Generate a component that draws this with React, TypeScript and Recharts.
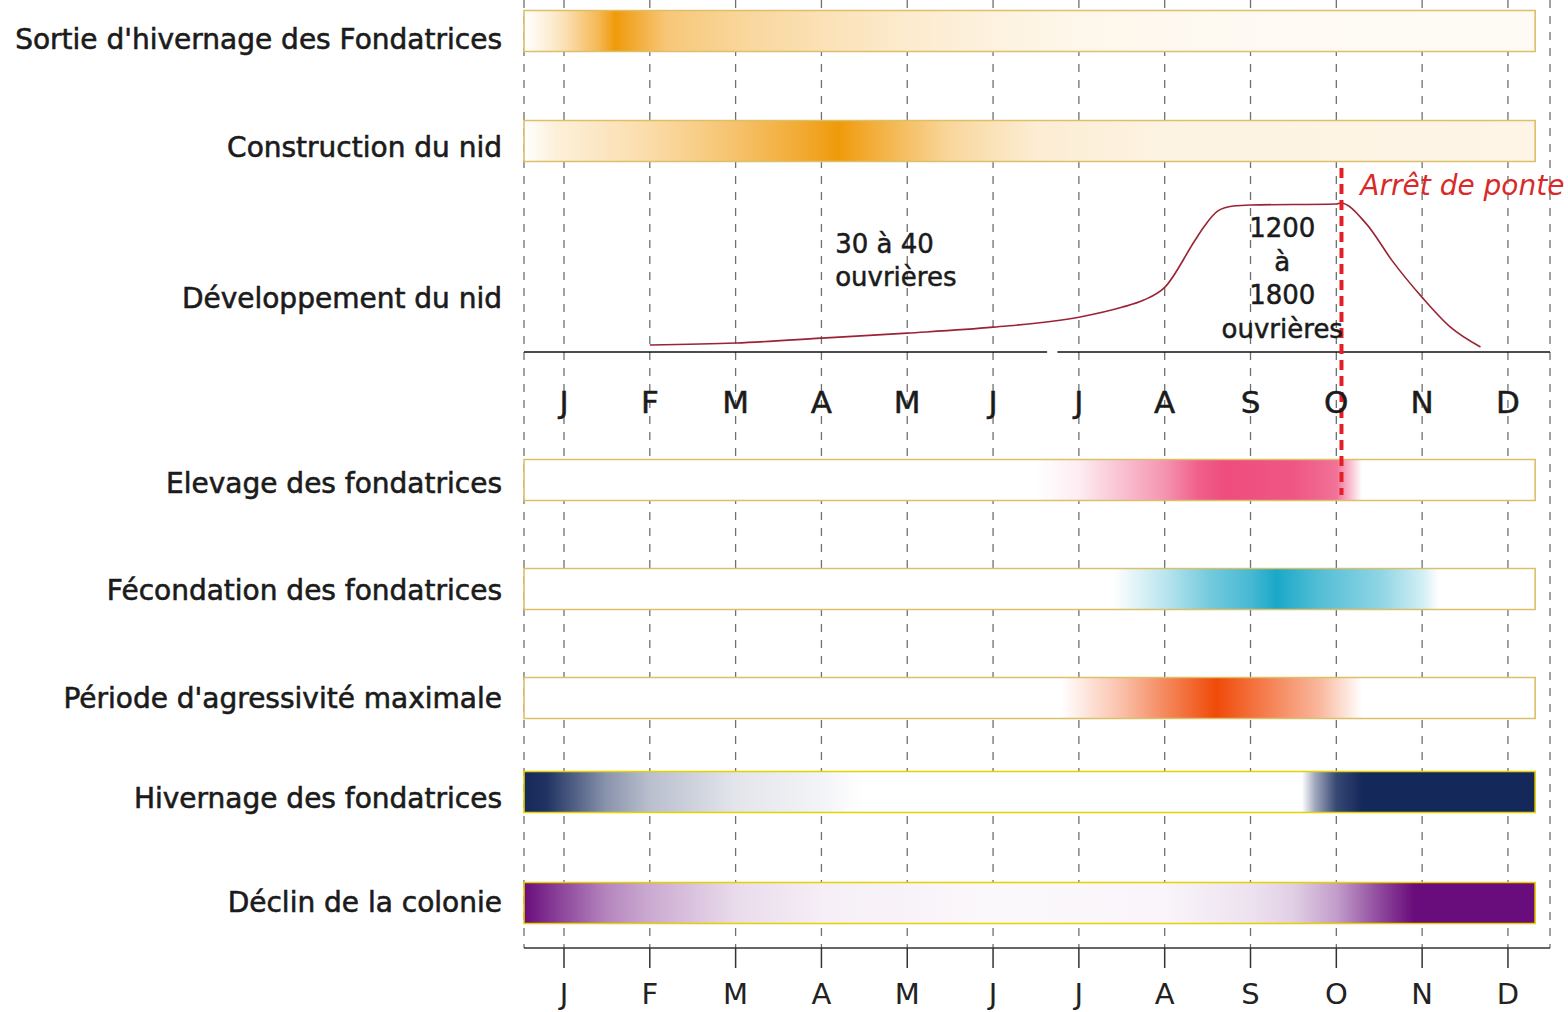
import React from "react"
import {
  CartesianGrid,
  ComposedChart,
  Line,
  ReferenceArea,
  ReferenceDot,
  ReferenceLine,
  XAxis,
  YAxis,
} from "recharts"

// ---- data ----
const MONTHS = ["J", "F", "M", "A", "M", "J", "J", "A", "S", "O", "N", "D"]
const MONTH_TICKS = MONTHS.map((_, i) => i)

const ROW_LABELS = [
  "Sortie d'hivernage des Fondatrices",
  "Construction du nid",
  "Développement du nid",
  "Elevage des fondatrices",
  "Fécondation des fondatrices",
  "Période d'agressivité maximale",
  "Hivernage des fondatrices",
  "Déclin de la colonie",
]

// activity intensity through the year: [month index, 0..1]
const SORTIE = [[-0.47, 0], [-0.2, 0.15], [0, 0.3], [0.4, 0.7], [0.6, 1], [0.8, 0.85], [1.2, 0.55], [2, 0.42], [3, 0.3], [4, 0.2], [5, 0.13], [6, 0.08], [8, 0.05], [11.32, 0.04]]
const CONSTRUCTION = [[-0.47, 0], [-0.1, 0.15], [1, 0.35], [2, 0.6], [2.8, 0.85], [3.2, 1], [3.5, 0.85], [4.5, 0.4], [5.5, 0.18], [7, 0.12], [11.32, 0.1]]
const ELEVAGE = [[-0.47, 0], [5.5, 0], [6, 0.1], [6.5, 0.35], [7, 0.6], [7.4, 0.9], [7.7, 1], [8.5, 0.95], [9, 0.8], [9.15, 0.4], [9.3, 0], [11.32, 0]]
const FECONDATION = [[-0.47, 0], [6.4, 0], [7, 0.3], [7.5, 0.6], [8, 0.8], [8.3, 1], [8.8, 0.75], [9.5, 0.5], [10, 0.2], [10.2, 0], [11.32, 0]]
const AGRESSIVITE = [[-0.47, 0], [5.8, 0], [6.5, 0.35], [7, 0.65], [7.6, 1], [8.2, 0.7], [8.8, 0.4], [9.3, 0], [11.32, 0]]
const HIVERNAGE = [[-0.47, 1], [-0.2, 0.95], [0.5, 0.5], [1, 0.3], [2, 0.12], [3, 0.05], [3.5, 0], [8.6, 0], [8.75, 0.4], [9, 0.85], [9.3, 1], [11.32, 1]]
const DECLIN = [[-0.47, 1], [0, 0.75], [0.5, 0.5], [1, 0.35], [2, 0.15], [3, 0.07], [5, 0.03], [7, 0.04], [8, 0.12], [8.5, 0.2], [9, 0.4], [9.5, 0.75], [9.9, 1], [11.32, 1]]

const BAR_STOPS = [SORTIE, CONSTRUCTION, ELEVAGE, FECONDATION, AGRESSIVITE, HIVERNAGE, DECLIN]
const BAR_COLORS = ["#f09a0a", "#f09a0a", "#ee4d7d", "#1aa8c8", "#f04a08", "#14285a", "#6a0d7c"]
const BAR_BORDERS = ["#dcbf6a", "#dcbf6a", "#dcbf6a", "#dcbf6a", "#dcbf6a", "#e6d000", "#e6d000"]

// nest size (workers)
const NEST_MONTHS = [1, 2, 3, 4, 5, 6, 6.5, 6.75, 7, 7.35, 7.45, 7.62, 7.8, 8, 9, 9.05, 9.35, 9.65, 10, 10.33, 10.68]
const NEST_WORKERS = [70, 90, 140, 190, 250, 350, 450, 520, 650, 1120, 1250, 1420, 1470, 1480, 1490, 1500, 1290, 920, 550, 250, 50]
const EGG_STOP_MONTH = 9.06

// ---- layout ----
const W = 1568
const H = 1012
const LEFT = 524
const RIGHT = 18
const AXIS_H = 64
const PLOT_H = H - AXIS_H
const BAR_START = -0.466
const BAR_END = 11.317
const X_MAX = 11.49
const BAR_Y = [31, 141, 480, 589, 698, 792, 903]
const BAR_H = 41
const LABEL_Y = [39, 147, 298, 483, 590, 698, 798, 902]
const NEST_BASE_Y = 352
const NEST_PEAK_Y = 203
const NEST_PEAK = 1500
const TOP_MONTH_Y = 402
const FONT = "'DejaVu Sans', Verdana, sans-serif"
const INK = "#1b1b1b"

const pxPerWorker = (NEST_BASE_Y - NEST_PEAK_Y) / NEST_PEAK
const nestDomain = [-(PLOT_H - NEST_BASE_Y) / pxPerWorker, NEST_BASE_Y / pxPerWorker]

const nestData = NEST_MONTHS.map((m, i) => ({ month: m, workers: NEST_WORKERS[i] }))

function mix(hex: string, t: number) {
  const n = parseInt(hex.slice(1), 16)
  const c = [(n >> 16) & 255, (n >> 8) & 255, n & 255].map((v) => Math.round(255 + (v - 255) * t))
  return `rgb(${c[0]},${c[1]},${c[2]})`
}

const textShape =
  (lines: string[], opts: { size: number; anchor?: string; color?: string; italic?: boolean; lh?: number; heavy?: number }) =>
  (props: any) => (
    <text
      x={props.cx}
      y={props.cy}
      fontFamily={FONT}
      fontSize={opts.size}
      fontStyle={opts.italic ? "italic" : "normal"}
      textAnchor={opts.anchor || "start"}
      fill={opts.color || INK}
      stroke={opts.heavy ? opts.color || INK : "none"}
      strokeWidth={opts.heavy || 0}
    >
      {lines.map((l, i) => (
        <tspan key={i} x={props.cx} dy={i === 0 ? 0 : opts.lh || 33}>
          {l}
        </tspan>
      ))}
    </text>
  )

export default function App() {
  return (
    <div style={{ position: "absolute", left: 0, top: 0, width: W, height: H, background: "#fff" }}>
      <ComposedChart width={W} height={H} margin={{ top: 0, right: RIGHT, bottom: 0, left: 0 }}>
        <defs>
          {BAR_STOPS.map((stops, i) => (
            <linearGradient key={i} id={`bar-${i}`} x1="0" y1="0" x2="1" y2="0">
              {stops.map(([m, v], j) => (
                <stop
                  key={j}
                  offset={Math.min(1, Math.max(0, (m - BAR_START) / (BAR_END - BAR_START)))}
                  stopColor={mix(BAR_COLORS[i], v)}
                />
              ))}
            </linearGradient>
          ))}
        </defs>
        <XAxis
          type="number"
          dataKey="month"
          domain={[BAR_START, X_MAX]}
          allowDataOverflow
          ticks={MONTH_TICKS}
          interval={0}
          tickFormatter={(v: number) => MONTHS[v]}
          height={AXIS_H}
          axisLine={{ stroke: "#333", strokeWidth: 1.5 }}
          tickLine={{ stroke: "#333", strokeWidth: 1.5 }}
          tickSize={20}
          tickMargin={15}
          tick={{ fontFamily: FONT, fontSize: 29, fill: "#222" }}
        />
        <YAxis
          yAxisId="layout"
          type="number"
          domain={[0, PLOT_H]}
          reversed
          allowDataOverflow
          ticks={LABEL_Y}
          interval={0}
          tickFormatter={(v: number) => ROW_LABELS[LABEL_Y.indexOf(v)]}
          width={LEFT}
          axisLine={false}
          tickLine={false}
          tickSize={0}
          tickMargin={22}
          tick={{ fontFamily: FONT, fontSize: 28, fill: INK, stroke: INK, strokeWidth: 0.6 }}
        />
        <YAxis yAxisId="nest" type="number" domain={nestDomain} allowDataOverflow hide />
        <CartesianGrid
          yAxisId="layout"
          horizontal={false}
          stroke="#707070"
          strokeWidth={1.3}
          strokeDasharray="8 8"
        />
        {BAR_Y.map((y, i) => (
          <ReferenceArea
            key={i}
            yAxisId="layout"
            x1={BAR_START}
            x2={BAR_END}
            y1={y - BAR_H / 2}
            y2={y + BAR_H / 2}
            fill={`url(#bar-${i})`}
            fillOpacity={1}
            stroke={BAR_BORDERS[i]}
            strokeWidth={1.6}
          />
        ))}
        <ReferenceLine
          yAxisId="layout"
          segment={[{ x: BAR_START, y: NEST_BASE_Y }, { x: 5.63, y: NEST_BASE_Y }]}
          stroke="#111"
          strokeWidth={1.5}
        />
        <ReferenceLine
          yAxisId="layout"
          segment={[{ x: 5.75, y: NEST_BASE_Y }, { x: X_MAX, y: NEST_BASE_Y }]}
          stroke="#111"
          strokeWidth={1.5}
        />
        <Line
          yAxisId="nest"
          data={nestData}
          dataKey="workers"
          type="monotone"
          stroke="#9b2335"
          strokeWidth={1.6}
          dot={false}
          isAnimationActive={false}
        />
        <ReferenceLine
          yAxisId="layout"
          segment={[{ x: EGG_STOP_MONTH, y: 168 }, { x: EGG_STOP_MONTH, y: 495 }]}
          stroke="#e31e24"
          strokeWidth={4}
          strokeDasharray="10 6"
        />
        {MONTHS.map((m, i) => (
          <ReferenceDot
            key={i}
            yAxisId="layout"
            x={i}
            y={TOP_MONTH_Y + 11}
            r={1}
            shape={textShape([m], { size: 31, anchor: "middle", heavy: 0.5 })}
          />
        ))}
        <ReferenceDot
          yAxisId="layout"
          x={3.16}
          y={253}
          r={1}
          shape={textShape(["30 à 40", "ouvrières"], { size: 26, lh: 33, heavy: 0.5 })}
        />
        <ReferenceDot
          yAxisId="layout"
          x={8.37}
          y={237}
          r={1}
          shape={textShape(["1200", "à", "1800", "ouvrières"], { size: 26, anchor: "middle", lh: 33.5, heavy: 0.5 })}
        />
        <ReferenceDot
          yAxisId="layout"
          x={9.28}
          y={195}
          r={1}
          shape={textShape(["Arrêt de ponte"], { size: 28, italic: true, color: "#d92a2a" })}
        />
      </ComposedChart>
    </div>
  )
}
